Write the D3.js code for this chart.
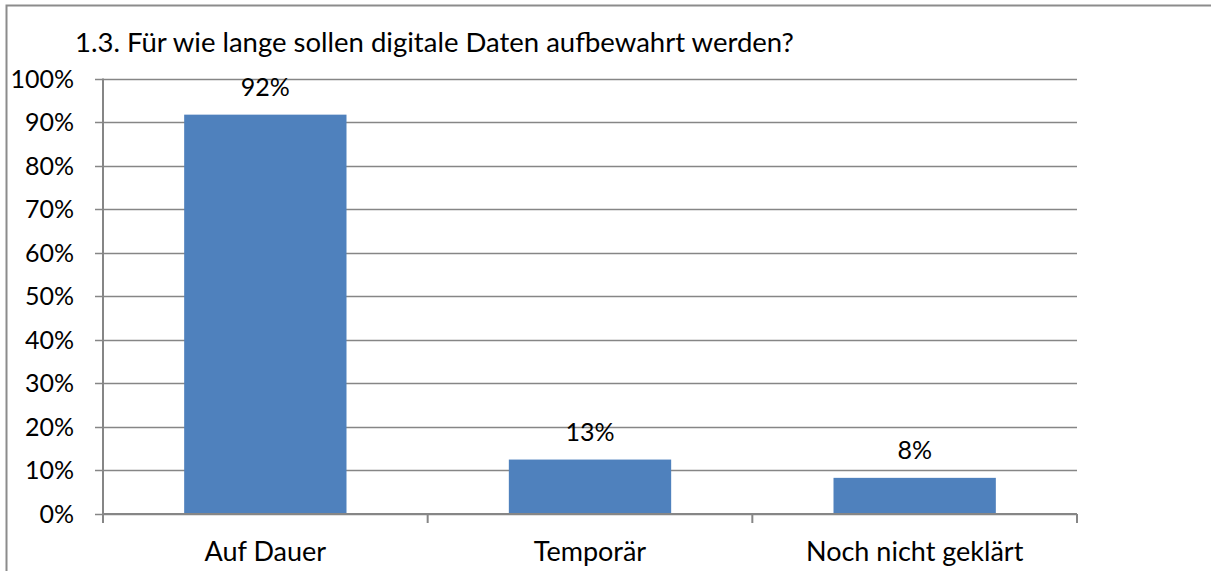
<!DOCTYPE html>
<meta charset="utf-8">
<script src="https://d3js.org/d3.v7.min.js"></script>
<style>
  body { margin: 0; background: #fff; }
  svg text { font-family: Lato, "Open Sans", sans-serif; fill: #000; }
</style>
<div id="chart"></div>
<script>

// data
var categories = ["Auf Dauer", "Temporär", "Noch nicht geklärt"];
var values = [91.7, 12.5, 8.3];
var valueLabels = ["92%", "13%", "8%"];
var yTicks = [0, 10, 20, 30, 40, 50, 60, 70, 80, 90, 100];
var title = "1.3. Für wie lange sollen digitale Daten aufbewahrt werden?";

var W = 1211, H = 571;
var svg = d3.select("#chart").append("svg")
    .attr("width", W)
    .attr("height", H);

// outer frame (only top and left edges visible)
svg.append("path")
    .attr("d", "M6.5," + H + "V5.5H" + W)
    .attr("fill", "none")
    .attr("stroke", "#8c8c8c")
    .attr("stroke-width", 2);

// scales
var x = d3.scaleBand()
    .domain(categories)
    .range([103, 1077])
    .paddingInner(0.5)
    .paddingOuter(0.25);

var y = d3.scaleLinear()
    .domain([0, 100])
    .range([514, 78.5]);

// gridlines + y ticks
svg.append("g")
  .selectAll("line")
  .data(yTicks)
  .enter().append("line")
    .attr("x1", 95)
    .attr("x2", 1077)
    .attr("y1", function(d) { return Math.round(y(d)) + 0.5; })
    .attr("y2", function(d) { return Math.round(y(d)) + 0.5; })
    .attr("stroke", "#868686")
    .attr("stroke-width", 1.5);

// y labels
svg.append("g")
  .selectAll("text")
  .data(yTicks)
  .enter().append("text")
    .attr("x", 74)
    .attr("y", function(d) { return y(d); })
    .attr("dy", "0.36em")
    .attr("text-anchor", "end")
    .style("font-size", "25px")
    .text(function(d) { return d + "%"; });

// bars
svg.append("g")
  .selectAll("rect")
  .data(values)
  .enter().append("rect")
    .attr("x", function(d, i) { return x(categories[i]); })
    .attr("y", function(d) { return y(d); })
    .attr("width", x.bandwidth())
    .attr("height", function(d) { return y(0) - y(d); })
    .style("fill", "#4f81bd");

// value labels
svg.append("g")
  .selectAll("text")
  .data(values)
  .enter().append("text")
    .attr("x", function(d, i) { return x(categories[i]) + x.bandwidth() / 2; })
    .attr("y", function(d) { return y(d) - 19; })
    .attr("text-anchor", "middle")
    .style("font-size", "25px")
    .text(function(d, i) { return valueLabels[i]; });

// y axis line
svg.append("line")
    .attr("x1", 103).attr("x2", 103)
    .attr("y1", y(100)).attr("y2", y(0))
    .attr("stroke", "#868686")
    .attr("stroke-width", 2);

// x axis line + category ticks
var step = x.step();
var bounds = [0, 1, 2, 3].map(function(i) { return 103 + i * step; });
svg.append("line")
    .attr("x1", 103).attr("x2", 1077)
    .attr("y1", y(0)).attr("y2", y(0))
    .attr("stroke", "#868686")
    .attr("stroke-width", 2);
svg.append("g")
  .selectAll("line")
  .data(bounds)
  .enter().append("line")
    .attr("x1", function(d) { return d; })
    .attr("x2", function(d) { return d; })
    .attr("y1", y(0))
    .attr("y2", y(0) + 9)
    .attr("stroke", "#868686")
    .attr("stroke-width", 2);

// category labels
svg.append("g")
  .selectAll("text")
  .data(categories)
  .enter().append("text")
    .attr("x", function(d) { return x(d) + x.bandwidth() / 2; })
    .attr("y", 561)
    .attr("text-anchor", "middle")
    .style("font-size", "27px")
    .text(function(d) { return d; });

// title
svg.append("text")
    .attr("x", 75)
    .attr("y", 52)
    .style("font-size", "27.5px")
    .text(title);

</script>
